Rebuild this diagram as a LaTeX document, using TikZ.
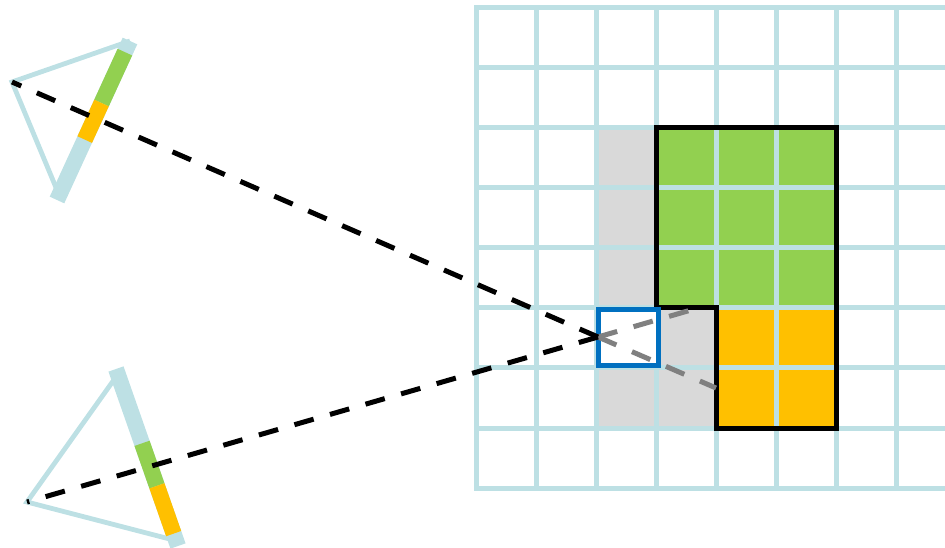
\documentclass[tikz,border=0pt]{standalone}
\usetikzlibrary{calc}
\definecolor{gridblue}{HTML}{BDE0E4}
\definecolor{cgreen}{HTML}{92D050}
\definecolor{corange}{HTML}{FFC000}
\definecolor{cgray}{HTML}{D9D9D9}
\definecolor{cblue}{HTML}{0070C0}
\definecolor{dgray}{HTML}{808080}
\tikzset{
  gridline/.style={draw=gridblue, line width=3.75pt, line cap=rect},
  bar/.style={line width=12pt},
  frustum/.style={draw=gridblue, line width=3.6pt},
  ray/.style={draw=black, line width=3.75pt, dash pattern=on 15pt off 12.75pt},
  rayext/.style={draw=dgray, line width=3.75pt, dash pattern=on 15pt off 12.75pt},
}
\begin{document}
\begin{tikzpicture}[x=0.75pt,y=-0.75pt]
\useasboundingbox (0,0) rectangle (945,548);
\clip (0,0) rectangle (945,548);
% regions
\fill[cgray] (596,128) rectangle (656,428);
\fill[cgray] (656,308) rectangle (716,428);
\fill[cgreen] (656,128) rectangle (836,308);
\fill[corange] (716,308) rectangle (836,428);
% grid
\foreach \i in {0,...,7} \draw[gridline] (476+60*\i,8) -- (476+60*\i,488);
\foreach \j in {0,...,8} \draw[gridline] (476,8+60*\j) -- (960,8+60*\j);
% outline
\draw[line width=3.75pt, line join=miter] (656,128) -- (836,128) -- (836,428) -- (716,428) -- (716,308) -- (656,308) -- cycle;
% blue cell
\node[draw=cblue, fill=white, line width=3.75pt, minimum width=60*0.75pt, minimum height=56*0.75pt, inner sep=0pt, outer sep=0pt, anchor=north west] (cell) at (598.5,309.5) {};
% cameras
\coordinate (A1) at (12,82);
\coordinate (T1) at (130,41);
\coordinate (B1) at (57,200);
\coordinate (A2) at (27,502);
\coordinate (T2) at (116,369);
\coordinate (B2) at (178,546);
\draw[frustum] (T1) -- (A1) -- ($(T1)!0.97!(B1)$);
\draw[frustum] ($(T2)!0.03!(B2)$) -- (A2) -- ($(T2)!0.97!(B2)$);
\draw[bar, gridblue] (T1) -- (B1);
\draw[bar, cgreen] ($(T1)!0.07!(B1)$) -- ($(T1)!0.39!(B1)$);
\draw[bar, corange] ($(T1)!0.39!(B1)$) -- ($(T1)!0.62!(B1)$);
\draw[bar, gridblue] (T2) -- (B2);
\draw[bar, cgreen] ($(T2)!0.42!(B2)$) -- ($(T2)!0.66!(B2)$);
\draw[bar, corange] ($(T2)!0.66!(B2)$) -- ($(T2)!0.93!(B2)$);
% rays
\coordinate (X) at (598,337);
\coordinate (E1) at (716,388);
\coordinate (E2) at (698,308);
\draw[rayext] (X) -- (E1);
\draw[rayext] (X) -- (E2);
\draw[ray] (X) -- (A1);
\draw[ray] (X) -- (A2);
\end{tikzpicture}
\end{document}
